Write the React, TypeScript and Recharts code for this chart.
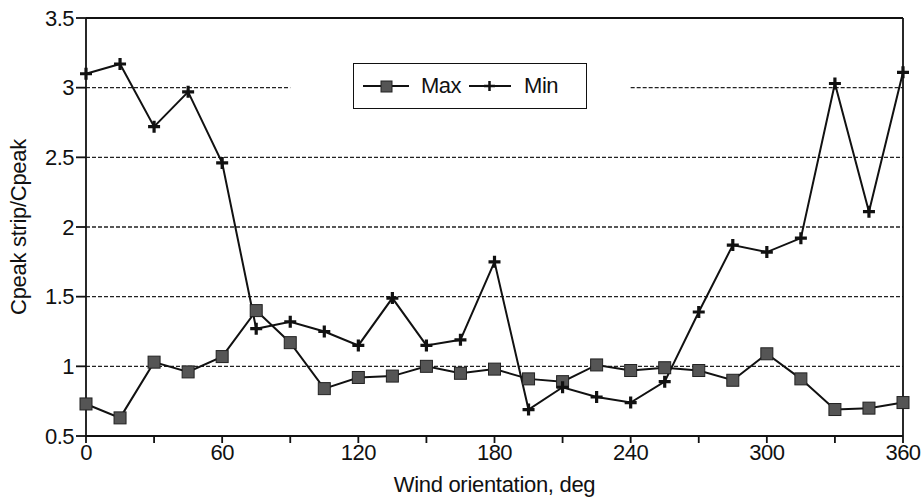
import React from 'react';
import { LineChart, Line, XAxis, YAxis, ReferenceLine } from 'recharts';

const angles = [0, 15, 30, 45, 60, 75, 90, 105, 120, 135, 150, 165, 180, 195, 210, 225, 240, 255, 270, 285, 300, 315, 330, 345, 360];
const maxValues = [0.73, 0.63, 1.03, 0.96, 1.07, 1.4, 1.17, 0.84, 0.92, 0.93, 1.0, 0.95, 0.98, 0.91, 0.89, 1.01, 0.97, 0.99, 0.97, 0.9, 1.09, 0.91, 0.69, 0.7, 0.74];
const minValues = [3.1, 3.17, 2.72, 2.97, 2.46, 1.27, 1.32, 1.25, 1.15, 1.49, 1.15, 1.19, 1.75, 0.69, 0.85, 0.78, 0.74, 0.89, 1.39, 1.87, 1.82, 1.92, 3.03, 2.11, 3.11];
const xTicks = [0, 30, 60, 90, 120, 150, 180, 210, 240, 270, 300, 330, 360];
const yTicks = [0.5, 1, 1.5, 2, 2.5, 3, 3.5];
const dashedLevels = [1, 1.5, 2, 2.5];
const seriesNames = ['Max', 'Min'];

const data = angles.map((a, i) => ({ angle: a, Max: maxValues[i], Min: minValues[i] }));

const FONT = '"Liberation Sans", Arial, sans-serif';

const SquareDot = (props: any) => {
  const { cx, cy } = props;
  if (cx == null || cy == null) return null;
  return <rect x={cx - 6} y={cy - 6} width={12} height={12} fill="#555" stroke="#222" strokeWidth={1} />;
};

const PlusDot = (props: any) => {
  const { cx, cy } = props;
  if (cx == null || cy == null) return null;
  return (
    <path d={`M${cx - 6},${cy} H${cx + 6} M${cx},${cy - 6} V${cy + 6}`} stroke="#111" strokeWidth={3.2} fill="none" />
  );
};

const LegendBox = () => (
  <div
    style={{
      position: 'absolute', left: 353, top: 63, width: 234, height: 46, boxSizing: 'border-box',
      border: '1.8px solid #111', background: '#fff', display: 'flex', alignItems: 'center',
      fontFamily: FONT, fontSize: 22, color: '#111', letterSpacing: -0.5,
    }}
  >
    <svg width={48} height={20} style={{ marginLeft: 9 }}>
      <line x1={0} y1={10} x2={46} y2={10} stroke="#111" strokeWidth={1.8} />
      <rect x={18} y={5} width={11} height={11} fill="#555" stroke="#222" />
    </svg>
    <span style={{ marginLeft: 10 }}>{seriesNames[0]}</span>
    <svg width={44} height={20} style={{ marginLeft: 8 }}>
      <line x1={0} y1={10} x2={42} y2={10} stroke="#111" strokeWidth={1.8} />
      <path d="M15,10 H26 M20.5,5 V15" stroke="#111" strokeWidth={2.5} />
    </svg>
    <span style={{ marginLeft: 11 }}>{seriesNames[1]}</span>
  </div>
);

export default function App() {
  return (
    <div style={{ position: 'absolute', left: 0, top: 0, width: 924, height: 498, background: '#fff' }}>
      <LineChart width={924} height={498} data={data} margin={{ top: 18, right: 21, left: 0, bottom: 0 }}>
        <XAxis
          dataKey="angle"
          type="number"
          domain={[0, 360]}
          ticks={xTicks}
          interval={0}
          tickFormatter={(v: number) => (v % 60 === 0 ? String(v) : '')}
          tickSize={7}
          tickMargin={1}
          height={62}
          stroke="#111"
          strokeWidth={1.8}
          tick={{ fill: '#111', fontSize: 22, fontFamily: FONT, letterSpacing: -0.5 }}
          label={{ value: 'Wind orientation, deg', position: 'insideBottom', offset: 6, fill: '#111', fontSize: 22, fontFamily: FONT, letterSpacing: -0.3 }}
        />
        <YAxis
          type="number"
          domain={[0.5, 3.5]}
          ticks={yTicks}
          interval={0}
          width={86}
          tickSize={10}
          tickMargin={2}
          stroke="#111"
          strokeWidth={1.8}
          tick={{ fill: '#111', fontSize: 22, fontFamily: FONT, letterSpacing: -0.5 }}
          label={{ value: 'Cpeak strip/Cpeak', angle: -90, position: 'insideLeft', offset: 18, style: { textAnchor: 'middle' }, fill: '#111', fontSize: 22, fontFamily: FONT, letterSpacing: -0.3 }}
        />
        {dashedLevels.map((v) => (
          <ReferenceLine key={v} y={v} stroke="#222" strokeDasharray="4 2" strokeWidth={1.3} />
        ))}
        <ReferenceLine segment={[{ x: 0, y: 3 }, { x: 90, y: 3 }]} stroke="#222" strokeDasharray="4 2" strokeWidth={1.3} />
        <ReferenceLine segment={[{ x: 240, y: 3 }, { x: 360, y: 3 }]} stroke="#222" strokeDasharray="4 2" strokeWidth={1.3} />
        <ReferenceLine y={3.5} stroke="#111" strokeWidth={1.8} />
        <ReferenceLine x={360} stroke="#111" strokeWidth={1.8} />
        <Line dataKey="Max" stroke="#111" strokeWidth={2} dot={<SquareDot />} isAnimationActive={false} />
        <Line dataKey="Min" stroke="#111" strokeWidth={2} dot={<PlusDot />} isAnimationActive={false} />
      </LineChart>
      <LegendBox />
    </div>
  );
}
